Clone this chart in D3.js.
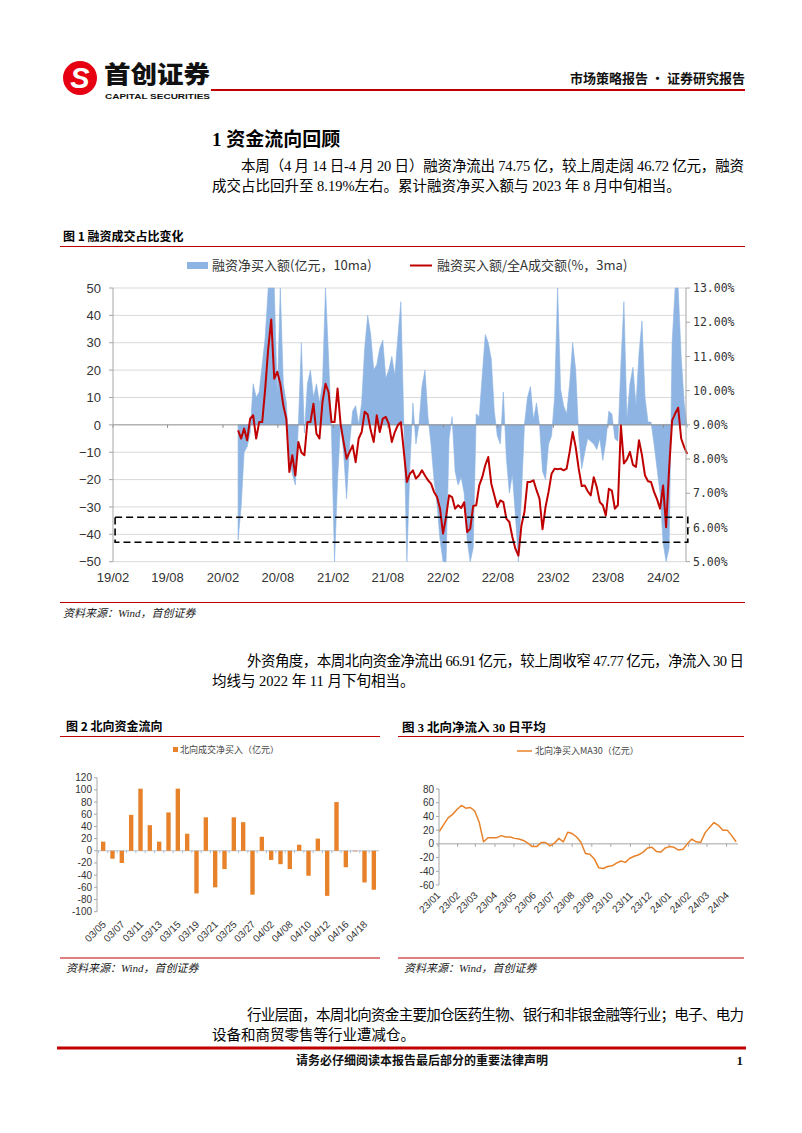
<!DOCTYPE html>
<html><head><meta charset="utf-8">
<script src="https://cdn.jsdelivr.net/npm/d3@7"></script>
<style>
body{margin:0;background:#fff;}
svg{display:block;}
</style></head><body>
<svg id="page" width="802" height="1133"></svg>
<script>
// ================= DATA =================
// Figure 1: margin financing, samples every 10 days from start date
const fig1Start = "2020-03-22";
const fig1StepDays = 10;
const finNetBuy10ma = [
 -42,-30,-10,-8,-3,15,10,12,22,32,55,55,55,10,55,15,8,-12,-18,-22,0,30,-3,15,20,10,15,8,15,55,25,-3,-55,-20,0,-10,-27,-7,5,7,0,8,28,40,33,20,22,28,31,
 17,20,25,18,32,45,0,-55,-15,8,-7,0,14,20,3,-7,-20,-29,-42,-55,-55,-5,3,-17,-22,-19,-25,-42,-55,-45,4,3,18,33,30,24,5,-4,-7,12,-12,-25,-18,-33,-52,-26,0,10,14,2,8,0,
 -17,-20,-7,-4,10,55,13,7,4,15,30,20,-4,-16,-10,-5,-6,-7,-9,-5,-13,-6,5,4,-5,-6,22,45,2,15,21,7,26,38,10,1,1,-7,-16,-25,-43,-55,-45,30,55,55,25,8,-1
];
const finBuyRatio3ma = [
 8.84,8.60,8.89,8.55,9.18,9.28,8.60,9.08,9.08,10.06,11.23,12.08,10.35,10.55,10.20,9.57,9.18,7.62,8.11,7.52,8.50,8.19,8.11,9.08,9.08,9.62,8.74,8.60,9.67,10.20,9.96,9.08,9.08,10.06,9.03,8.50,8.01,8.21,8.40,7.91,8.60,8.79,9.38,9.30,8.84,8.50,9.28,8.79,9.18,
 9.23,9.03,8.50,8.79,8.99,9.08,8.21,7.33,7.57,7.67,7.43,7.52,7.67,7.52,7.38,7.28,7.04,6.89,6.55,5.82,6.31,6.94,6.89,6.55,6.65,6.57,6.74,5.87,5.96,6.63,6.65,7.23,7.47,7.82,8.06,7.28,6.94,6.60,6.79,6.74,6.26,6.16,5.72,5.38,5.18,6.06,6.45,7.33,7.33,7.38,7.09,6.84,
 5.95,6.60,7.04,7.57,7.72,7.70,7.72,7.67,7.72,8.21,8.79,8.35,7.72,7.21,7.23,7.06,6.94,7.47,7.18,6.74,6.65,6.35,7.13,7.08,6.55,6.65,8.98,7.87,7.99,8.21,7.83,7.77,8.55,8.11,7.52,7.35,7.33,7.04,6.82,6.55,7.23,6.01,7.72,9.13,9.33,9.50,8.60,8.35,8.15
];
const fig1XTicks = ["2019-02-01","2019-08-01","2020-02-01","2020-08-01","2021-02-01","2021-08-01","2022-02-01","2022-08-01","2023-02-01","2023-08-01","2024-02-01"];
const fig1LeftTicks = [50,40,30,20,10,0,-10,-20,-30,-40,-50];
const fig1RightTicks = [13,12,11,10,9,8,7,6,5];
const fig1Band = {top:6.3, bottom:5.57, from:"2019-02-08", to:"2024-04-22"};

// Figure 2: northbound daily net buy (2024)
const nbDates = ["03/05","03/06","03/07","03/08","03/11","03/12","03/13","03/14","03/15","03/18","03/19","03/20","03/21","03/22","03/25","03/26","03/27","03/28","04/02","04/03","04/08","04/09","04/10","04/11","04/12","04/15","04/16","04/17","04/18","04/19"];
const nbNetBuy = [15,-13,-20,59,102,42,15,63,102,28,-70,55,-60,-30,55,47,-72,23,-15,-22,-30,10,-41,20,-74,80,-27,-1,-52,-64];
const nbYTicks = [120,100,80,60,40,20,0,-20,-40,-60,-80,-100];

// Figure 3: northbound net buy MA30, weekly samples
const ma30Start = "2023-01-03";
const ma30StepDays = 7;
const ma30Values = [18,28,38,43,50,56,52,53,48,32,3,9,9,9,12,10,10,8,7,5,1,-4,-4,2,2,-3,1,8,3,17,15,10,2,-14,-15,-22,-35,-36,-33,-32,-28,-25,-27,-21,-18,-16,-12,-6,-5,-11,-12,-6,-4,-5,-9,-8,0,7,3,2,16,24,31,27,20,20,12,3];
const ma30YTicks = [80,60,40,20,0,-20,-40,-60];
const ma30MonthTicks = ["2023-01-01","2023-02-01","2023-03-01","2023-04-01","2023-05-01","2023-06-01","2023-07-01","2023-08-01","2023-09-01","2023-10-01","2023-11-01","2023-12-01","2024-01-01","2024-02-01","2024-03-01","2024-04-01"];

// Text
const para1 = ["本周（4 月 14 日-4 月 20 日）融资净流出 74.75 亿，较上周走阔 46.72 亿元，融资","成交占比回升至 8.19%左右。累计融资净买入额与 2023 年 8 月中旬相当。"];
const para2 = ["外资角度，本周北向资金净流出 66.91 亿元，较上周收窄 47.77 亿元，净流入 30 日","均线与 2022 年 11 月下旬相当。"];
const para3 = ["行业层面，本周北向资金主要加仓医药生物、银行和非银金融等行业；电子、电力","设备和商贸零售等行业遭减仓。"];

// ================= DRAW =================
const svg = d3.select("#page");
svg.append("rect").attr("width",802).attr("height",1133).attr("fill","#fff");
const parse = d3.timeParse("%Y-%m-%d");
const RED = "#C00000";
const SERIF = "'Liberation Serif','Noto Sans CJK SC',serif";
const CJK = "'Noto Sans CJK SC',sans-serif";
const SANS = "'Liberation Sans',Arial,sans-serif";

// ---- Header ----
const logo = svg.append("g");
logo.append("circle").attr("cx",80).attr("cy",78).attr("r",17).attr("fill","#E60012");
logo.append("text").attr("x",80).attr("y",88).attr("text-anchor","middle")
  .attr("font-family",SANS).attr("font-weight",700).attr("font-style","italic").attr("font-size",29).attr("fill","#fff").text("S");
logo.append("text").attr("x",104).attr("y",83).attr("font-family",CJK).attr("font-weight",900).attr("font-size",24)
  .attr("textLength",106).attr("lengthAdjust","spacingAndGlyphs").attr("fill","#111").text("首创证券");
logo.append("text").attr("x",105).attr("y",99).attr("font-family",SANS).attr("font-weight",700).attr("font-size",8)
  .attr("textLength",105).attr("lengthAdjust","spacingAndGlyphs").attr("fill","#111").text("CAPITAL SECURITIES");
svg.append("line").attr("x1",211).attr("x2",745).attr("y1",90).attr("y2",90).attr("stroke",RED).attr("stroke-width",2);
svg.append("text").attr("x",745).attr("y",83).attr("text-anchor","end").attr("font-family",CJK).attr("font-weight",700).attr("font-size",13)
  .attr("fill","#111").text("市场策略报告 · 证券研究报告");

// ---- Section title & paragraphs ----
svg.append("text").attr("x",212).attr("y",146).attr("font-family",SERIF).attr("font-weight",700).attr("font-size",19).attr("fill","#000").text("1  资金流向回顾");
function para(lines, x1, x2, y, indentX){
  lines.forEach((t,i)=>{
    const tx = svg.append("text").attr("x", i===0?indentX:x1).attr("y", y+i*20)
      .attr("font-family",SERIF).attr("font-size",14.5).attr("fill","#000").text(t);
    if(i < lines.length-1) tx.attr("textLength", x2-indentX).attr("lengthAdjust","spacing");
  });
}
para(para1, 212, 744, 171, 241);
para(para2, 212, 744, 666, 247);
para(para3, 212, 744, 1020, 247);

// ---- Figure 1 ----
svg.append("text").attr("x",63).attr("y",241).attr("font-family",CJK).attr("font-weight",700).attr("font-size",12).attr("fill","#000").text("图 1 融资成交占比变化");
svg.append("line").attr("x1",60).attr("x2",745).attr("y1",246.5).attr("y2",246.5).attr("stroke",RED).attr("stroke-width",1.2);
// legend
svg.append("rect").attr("x",187).attr("y",262).attr("width",21).attr("height",7).attr("fill","#8DB4E2");
svg.append("text").attr("x",212).attr("y",270).attr("font-family",CJK).attr("font-size",13).attr("fill","#333").text("融资净买入额(亿元，10ma)");
svg.append("line").attr("x1",410).attr("x2",432).attr("y1",265.5).attr("y2",265.5).attr("stroke",RED).attr("stroke-width",2);
svg.append("text").attr("x",437).attr("y",270).attr("font-family",CJK).attr("font-size",13).attr("fill","#333").text("融资买入额/全A成交额(%，3ma)");

const f1x = d3.scaleTime().domain([parse("2019-02-01"), parse("2024-04-16")]).range([113,686]);
const f1yL = d3.scaleLinear().domain([-50,50]).range([561.7,288]);
const f1yR = d3.scaleLinear().domain([5,13]).range([561.7,288]);
const f1 = svg.append("g");
// gridlines
f1.selectAll(".g").data(fig1LeftTicks.filter(v=>v!==0)).join("line")
  .attr("x1",113).attr("x2",686).attr("y1",d=>f1yL(d)).attr("y2",d=>f1yL(d)).attr("stroke","#D9D9D9").attr("stroke-width",1);
const d0 = parse(fig1Start);
const fin = finNetBuy10ma.map((v,i)=>({date:d3.timeDay.offset(d0,i*fig1StepDays), v}));
const ratio = finBuyRatio3ma.map((v,i)=>({date:d3.timeDay.offset(d0,i*fig1StepDays), v}));
const clampL = v=>Math.max(-50,Math.min(50,v));
f1.append("path").datum(fin).attr("fill","#8DB4E2").attr("stroke","#8DB4E2").attr("stroke-width",0.6)
  .attr("d", d3.area().x(d=>f1x(d.date)).y0(f1yL(0)).y1(d=>f1yL(clampL(d.v))));
// zero line
f1.append("line").attr("x1",113).attr("x2",686).attr("y1",f1yL(0)).attr("y2",f1yL(0)).attr("stroke","#8C8C8C").attr("stroke-width",1);
f1.selectAll(".xt").data(fig1XTicks).join("line")
  .attr("x1",d=>f1x(parse(d))).attr("x2",d=>f1x(parse(d))).attr("y1",f1yL(0)).attr("y2",f1yL(0)+3).attr("stroke","#8C8C8C");
// red line
f1.append("path").datum(ratio).attr("fill","none").attr("stroke",RED).attr("stroke-width",2).attr("stroke-linejoin","round")
  .attr("d", d3.line().x(d=>f1x(d.date)).y(d=>f1yR(d.v)));
// axes
f1.append("line").attr("x1",113).attr("x2",113).attr("y1",288).attr("y2",561.7).attr("stroke","#A6A6A6");
f1.selectAll(".lt").data(fig1LeftTicks).join("line").attr("x1",109).attr("x2",113).attr("y1",d=>f1yL(d)).attr("y2",d=>f1yL(d)).attr("stroke","#A6A6A6");
f1.selectAll(".ll").data(fig1LeftTicks).join("text").attr("x",101).attr("y",d=>f1yL(d)).attr("dy","0.36em").attr("text-anchor","end")
  .attr("font-family",SANS).attr("font-size",13).attr("fill","#333").text(d=>d<0?"−"+Math.abs(d):d);
f1.append("line").attr("x1",686).attr("x2",686).attr("y1",288).attr("y2",561.7).attr("stroke","#A6A6A6");
f1.selectAll(".rt").data(fig1RightTicks).join("line").attr("x1",686).attr("x2",690).attr("y1",d=>f1yR(d)).attr("y2",d=>f1yR(d)).attr("stroke","#A6A6A6");
f1.selectAll(".rl").data(fig1RightTicks).join("text").attr("x",693).attr("y",d=>f1yR(d)).attr("dy","0.36em")
  .attr("font-family","'DejaVu Sans Mono',monospace").attr("font-size",11.5).attr("fill","#333").text(d=>d.toFixed(2)+"%");
f1.selectAll(".xl").data(fig1XTicks).join("text").attr("x",d=>f1x(parse(d))).attr("y",582).attr("text-anchor","middle")
  .attr("font-family",SANS).attr("font-size",13).attr("fill","#333").text(d=>d3.timeFormat("%y/%m")(parse(d)));
// dashed band
f1.append("rect").attr("x",f1x(parse(fig1Band.from))).attr("y",f1yR(fig1Band.top))
  .attr("width",f1x(parse(fig1Band.to))-f1x(parse(fig1Band.from))).attr("height",f1yR(fig1Band.bottom)-f1yR(fig1Band.top))
  .attr("fill","none").attr("stroke","#000").attr("stroke-width",1.6).attr("stroke-dasharray","7,4");
// source
svg.append("line").attr("x1",60).attr("x2",745).attr("y1",602.5).attr("y2",602.5).attr("stroke",RED).attr("stroke-width",1.2);
svg.append("text").attr("x",63).attr("y",617).attr("font-family",SERIF).attr("font-style","italic").attr("font-size",11).attr("fill","#222").text("资料来源：Wind，首创证券");

// ---- Figure 2 ----
svg.append("text").attr("x",66).attr("y",731).attr("font-family",CJK).attr("font-weight",700).attr("font-size",12).attr("fill","#000").text("图 2 北向资金流向");
svg.append("line").attr("x1",60).attr("x2",380).attr("y1",736.5).attr("y2",736.5).attr("stroke",RED).attr("stroke-width",1.2);
const ORANGE = "#E8822A";
svg.append("rect").attr("x",173).attr("y",747).attr("width",5).attr("height",5).attr("fill",ORANGE);
svg.append("text").attr("x",180).attr("y",753).attr("font-family",CJK).attr("font-size",9).attr("fill","#444").text("北向成交净买入（亿元）");
const f2x = d3.scaleBand().domain(nbDates).range([98.5,378.5]).paddingInner(0.53).paddingOuter(0.265);
const f2y = d3.scaleLinear().domain([-100,120]).range([911.7,777.7]);
const f2 = svg.append("g");
f2.append("line").attr("x1",97).attr("x2",379).attr("y1",f2y(0)).attr("y2",f2y(0)).attr("stroke","#B4C0D0");
f2.selectAll(".bt").data(nbDates).join("line").attr("x1",(d,i)=>98.5+i*f2x.step()).attr("x2",(d,i)=>98.5+i*f2x.step())
  .attr("y1",f2y(0)).attr("y2",f2y(0)+2.5).attr("stroke","#B4C0D0");
f2.selectAll(".bar").data(nbNetBuy).join("rect")
  .attr("x",(d,i)=>f2x(nbDates[i])).attr("width",f2x.bandwidth())
  .attr("y",d=>f2y(Math.max(0,d))).attr("height",d=>Math.abs(f2y(d)-f2y(0))).attr("fill",ORANGE);
f2.append("line").attr("x1",97).attr("x2",97).attr("y1",777.7).attr("y2",911.7).attr("stroke","#A6A6A6");
f2.selectAll(".yt").data(nbYTicks).join("line").attr("x1",94).attr("x2",97).attr("y1",d=>f2y(d)).attr("y2",d=>f2y(d)).attr("stroke","#A6A6A6");
f2.selectAll(".yl").data(nbYTicks).join("text").attr("x",92).attr("y",d=>f2y(d)).attr("dy","0.35em").attr("text-anchor","end")
  .attr("font-family",SANS).attr("font-size",10).attr("fill","#333").text(d=>d);
f2.selectAll(".xl").data(nbDates.filter((d,i)=>i%2===0)).join("text")
  .attr("transform",d=>`translate(${f2x(d)+f2x.bandwidth()/2+3.5},925) rotate(-45)`).attr("text-anchor","end")
  .attr("font-family",SANS).attr("font-size",10).attr("fill","#333").text(d=>d);
svg.append("line").attr("x1",60).attr("x2",380).attr("y1",958).attr("y2",958).attr("stroke",RED).attr("stroke-width",1.2);
svg.append("text").attr("x",66).attr("y",972).attr("font-family",SERIF).attr("font-style","italic").attr("font-size",11).attr("fill","#222").text("资料来源：Wind，首创证券");

// ---- Figure 3 ----
svg.append("text").attr("x",402).attr("y",732).attr("font-family",SERIF).attr("font-weight",700).attr("font-size",12.5).attr("fill","#000").text("图 3 北向净流入 30 日平均");
svg.append("line").attr("x1",398).attr("x2",744).attr("y1",736.5).attr("y2",736.5).attr("stroke",RED).attr("stroke-width",1.2);
svg.append("line").attr("x1",517).attr("x2",532).attr("y1",751).attr("y2",751).attr("stroke",ORANGE).attr("stroke-width",1.5);
svg.append("text").attr("x",535).attr("y",754).attr("font-family",CJK).attr("font-size",9).attr("fill","#444").text("北向净买入MA30（亿元）");
const f3x = d3.scaleTime().domain([parse("2023-01-01"), parse("2024-04-19")]).range([438,738]);
const f3y = d3.scaleLinear().domain([-60,80]).range([885,789]);
const f3 = svg.append("g");
const m0 = parse(ma30Start);
const ma = ma30Values.map((v,i)=>({date:d3.timeDay.offset(m0,i*ma30StepDays), v}));
f3.append("line").attr("x1",439).attr("x2",738).attr("y1",f3y(0)).attr("y2",f3y(0)).attr("stroke","#A6A6A6");
f3.selectAll(".xt").data(ma30MonthTicks).join("line").attr("x1",d=>f3x(parse(d))).attr("x2",d=>f3x(parse(d)))
  .attr("y1",f3y(0)).attr("y2",f3y(0)+3).attr("stroke","#A6A6A6");
f3.append("path").datum(ma).attr("fill","none").attr("stroke",ORANGE).attr("stroke-width",1.5).attr("stroke-linejoin","round")
  .attr("d", d3.line().x(d=>f3x(d.date)).y(d=>f3y(d.v)));
f3.append("line").attr("x1",439).attr("x2",439).attr("y1",789).attr("y2",885).attr("stroke","#A6A6A6");
f3.selectAll(".yt").data(ma30YTicks).join("line").attr("x1",436).attr("x2",439).attr("y1",d=>f3y(d)).attr("y2",d=>f3y(d)).attr("stroke","#A6A6A6");
f3.selectAll(".yl").data(ma30YTicks).join("text").attr("x",434).attr("y",d=>f3y(d)).attr("dy","0.35em").attr("text-anchor","end")
  .attr("font-family",SANS).attr("font-size",10).attr("fill","#333").text(d=>d);
f3.selectAll(".xl").data(ma30MonthTicks).join("text")
  .attr("transform",d=>`translate(${f3x(parse(d))+3},896) rotate(-45)`).attr("text-anchor","end")
  .attr("font-family",SANS).attr("font-size",10).attr("fill","#333").text(d=>d3.timeFormat("%y/%m")(parse(d)));
svg.append("line").attr("x1",398).attr("x2",744).attr("y1",958).attr("y2",958).attr("stroke",RED).attr("stroke-width",1.2);
svg.append("text").attr("x",404).attr("y",972).attr("font-family",SERIF).attr("font-style","italic").attr("font-size",11).attr("fill","#222").text("资料来源：Wind，首创证券");

// ---- Footer ----
svg.append("line").attr("x1",57).attr("x2",746).attr("y1",1048).attr("y2",1048).attr("stroke",RED).attr("stroke-width",3);
svg.append("text").attr("x",422).attr("y",1065).attr("text-anchor","middle").attr("font-family",CJK).attr("font-weight",700).attr("font-size",12).attr("fill","#111").text("请务必仔细阅读本报告最后部分的重要法律声明");
svg.append("text").attr("x",743).attr("y",1065).attr("text-anchor","end").attr("font-family",SERIF).attr("font-weight",700).attr("font-size",13).attr("fill","#111").text("1");
</script>
</body></html>
